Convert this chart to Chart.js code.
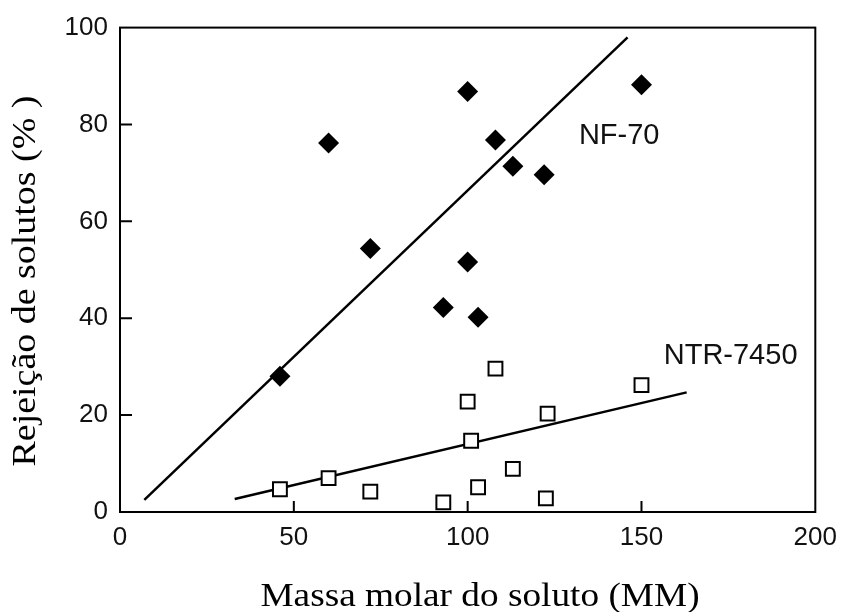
<!DOCTYPE html>
<html>
<head>
<meta charset="utf-8">
<script src="https://cdn.jsdelivr.net/npm/chart.js@4/dist/chart.umd.min.js"></script>
<style>
  html, body { margin: 0; padding: 0; background: #fff; }
  #wrap { width: 847px; height: 612px; }
</style>
</head>
<body>
<div id="wrap"><canvas id="rejChart" width="847" height="612"></canvas></div>
<script>
// NF-70 (filled diamonds)
const nfMass = [46, 60, 72, 93, 100, 100, 103, 108, 113, 122, 150];
const nfRej = [28, 76.2, 54.4, 42.2, 86.8, 51.6, 40.2, 76.8, 71.4, 69.6, 88.2];
// NTR-7450 (open squares)
const ntrMass = [46, 60, 72, 93, 100, 101, 103, 108, 113, 123, 122.5, 150];
const ntrRej = [4.7, 7.0, 4.2, 2.0, 22.8, 14.7, 5.1, 29.6, 8.9, 20.3, 2.8, 26.2];
// fitted lines (end points)
const nfFitX = [7, 146];
const nfFitY = [2.5, 98];
const ntrFitX = [33, 163];
const ntrFitY = [2.7, 24.7];
// text labels inside the plot
const labelText = ['NF-70', 'NTR-7450'];
const labelX = [132, 156.4];
const labelY = [77.7, 32.2];

const xTicks = [0, 50, 100, 150, 200];
const yTicks = [0, 20, 40, 60, 80, 100];
const xTitle = 'Massa molar do soluto (MM)';
const yTitle = 'Rejeição de solutos (% )';

function pts(xs, ys) {
    return xs.map(function(x, i) { return { x: x, y: ys[i] }; });
}

const framePlugin = {
    id: 'frame',
    afterDatasetsDraw(chart) {
        const ctx = chart.ctx;
        const a = chart.chartArea;
        const xs = chart.scales.x, ys = chart.scales.y;
        ctx.save();
        ctx.strokeStyle = '#000';
        ctx.lineWidth = 2;
        ctx.strokeRect(a.left, a.top, a.right - a.left, a.bottom - a.top);
        ctx.beginPath();
        xTicks.slice(1, -1).forEach(function(v) {
            const px = xs.getPixelForValue(v);
            ctx.moveTo(px, a.bottom);
            ctx.lineTo(px, a.bottom - 11);
        });
        yTicks.slice(1, -1).forEach(function(v) {
            const py = ys.getPixelForValue(v);
            ctx.moveTo(a.left, py);
            ctx.lineTo(a.left + 12, py);
        });
        ctx.stroke();

        ctx.fillStyle = '#111';
        ctx.font = '29px "Liberation Sans", Arial, sans-serif';
        ctx.textAlign = 'left';
        ctx.textBaseline = 'middle';
        labelText.forEach(function(t, i) {
            ctx.fillText(t, xs.getPixelForValue(labelX[i]), ys.getPixelForValue(labelY[i]));
        });

        // axis titles (serif, slightly wide)
        ctx.fillStyle = '#000';
        ctx.font = '33px "Liberation Serif", "Times New Roman", serif';
        ctx.textAlign = 'center';
        ctx.textBaseline = 'alphabetic';
        ctx.save();
        ctx.translate(480, 606);
        ctx.scale(1.13, 1);
        ctx.fillText(xTitle, 0, 0);
        ctx.restore();
        ctx.save();
        ctx.translate(35, 281);
        ctx.rotate(-Math.PI / 2);
        ctx.scale(1.15, 1);
        ctx.fillText(yTitle, 0, 0);
        ctx.restore();
        ctx.restore();
    }
};

const ctx = document.getElementById('rejChart').getContext('2d');
new Chart(ctx, {
    type: 'scatter',
    data: {
        datasets: [
            {
                label: 'NF-70',
                data: pts(nfMass, nfRej),
                pointStyle: 'rectRot',
                pointRadius: 10.5,
                backgroundColor: '#000',
                borderColor: '#000',
                borderWidth: 0,
                order: 0
            },
            {
                label: 'NTR-7450',
                data: pts(ntrMass, ntrRej),
                pointStyle: 'rect',
                pointRadius: 9.8,
                backgroundColor: '#fff',
                borderColor: '#000',
                borderWidth: 2,
                order: 0
            },
            {
                type: 'line',
                data: pts(nfFitX, nfFitY),
                borderColor: '#000',
                borderWidth: 2.5,
                pointRadius: 0,
                fill: false,
                order: 1
            },
            {
                type: 'line',
                data: pts(ntrFitX, ntrFitY),
                borderColor: '#000',
                borderWidth: 2.5,
                pointRadius: 0,
                fill: false,
                order: 1
            }
        ]
    },
    options: {
        responsive: false,
        animation: false,
        layout: { padding: { top: 24, right: 28, left: 0, bottom: 0 } },
        plugins: { legend: { display: false }, tooltip: { enabled: false } },
        scales: {
            x: {
                type: 'linear',
                min: 0,
                max: 200,
                afterFit: function(s) { s.height = 100; },
                afterBuildTicks: function(s) { s.ticks = xTicks.map(function(v) { return { value: v }; }); },
                grid: { display: false, drawTicks: false },
                border: { display: false },
                ticks: {
                    padding: 10,
                    color: '#111',
                    font: { family: '"Liberation Sans", Arial, sans-serif', size: 26 }
                }
            },
            y: {
                type: 'linear',
                min: 0,
                max: 100,
                afterFit: function(s) { s.width = 120; },
                afterBuildTicks: function(s) { s.ticks = yTicks.map(function(v) { return { value: v }; }); },
                grid: { display: false, drawTicks: false },
                border: { display: false },
                ticks: {
                    padding: 12,
                    color: '#111',
                    font: { family: '"Liberation Sans", Arial, sans-serif', size: 26 }
                }
            }
        }
    },
    plugins: [framePlugin]
});
</script>
</body>
</html>
